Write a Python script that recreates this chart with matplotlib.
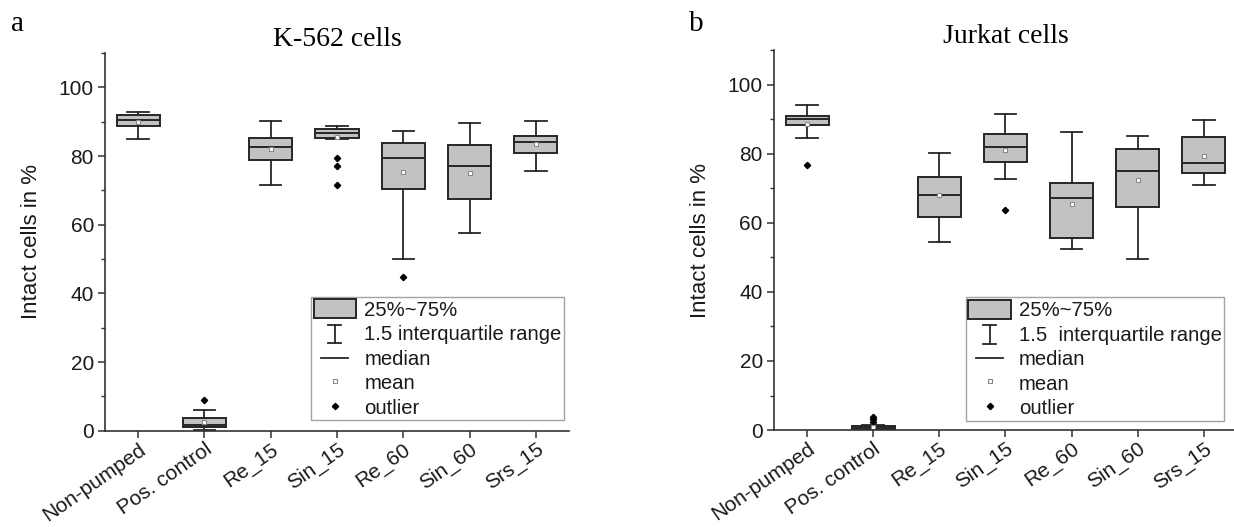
import matplotlib
matplotlib.use("Agg")
import matplotlib.pyplot as plt
from matplotlib.lines import Line2D
from matplotlib.patches import Patch
from matplotlib.legend_handler import HandlerBase
from matplotlib.ticker import MultipleLocator

# ---------------- data ----------------
categories = ["Non-pumped", "Pos. control", "Re_15", "Sin_15", "Re_60", "Sin_60", "Srs_15"]

# K-562 cells
k_q1 = [88.8, 1.2, 78.9, 85.2, 70.3, 67.5, 80.9]
k_med = [90.4, 1.6, 82.7, 86.6, 79.3, 77.0, 84.1]
k_q3 = [91.9, 3.6, 85.3, 87.9, 83.8, 83.3, 85.7]
k_whislo = [84.9, 0.3, 71.5, 85.0, 50.1, 57.5, 75.5]
k_whishi = [92.8, 6.1, 90.2, 88.7, 87.2, 89.7, 90.2]
k_mean = [89.9, 2.7, 81.9, 85.4, 75.4, 75.2, 83.4]
k_fliers = [[], [8.9], [], [79.4, 77.2, 71.5], [44.9], [], []]

# Jurkat cells
j_q1 = [88.2, 0.3, 61.7, 77.6, 55.5, 64.5, 74.5]
j_med = [90.0, 0.8, 68.2, 82.0, 67.1, 75.1, 77.4]
j_q3 = [91.0, 1.2, 73.4, 85.7, 71.5, 81.5, 84.9]
j_whislo = [84.5, 0.1, 54.5, 72.6, 52.5, 49.4, 70.9]
j_whishi = [94.0, 1.6, 80.3, 91.6, 86.4, 85.2, 89.7]
j_mean = [88.7, 0.9, 68.0, 81.2, 65.6, 72.3, 79.4]
j_fliers = [[76.8], [3.9, 3.1, 2.2], [], [63.8], [], [], []]

titles = ["K-562 cells", "Jurkat cells"]
panel_labels = ["a", "b"]
ylabel = "Intact cells in %"
legend_labels_a = ["25%~75%", "1.5 interquartile range", "median", "mean", "outlier"]
legend_labels_b = ["25%~75%", "1.5  interquartile range", "median", "mean", "outlier"]

# ---------------- style ----------------
SANS = ["Liberation Sans", "DejaVu Sans"]
SERIF = ["Liberation Serif", "DejaVu Serif"]
plt.rcParams["font.family"] = SANS
BOX_FILL = "#c2c2c2"
EDGE = "#262626"
TXT = "#1a1a1a"

fig = plt.figure(figsize=(12.34, 5.27), dpi=100)
ax_a = fig.add_axes([0.0851, 0.1825, 0.3760, 0.7170])
ax_b = fig.add_axes([0.6272, 0.1840, 0.3752, 0.7207])


class HandlerIBeam(HandlerBase):
    def create_artists(self, legend, orig_handle, xdescent, ydescent,
                       width, height, fontsize, trans):
        x0, y0 = -xdescent, -ydescent
        cx = x0 + width / 2
        cw = width * 0.15
        yb = y0 - height * 0.02
        yt = y0 + height * 0.95
        kw = dict(color=EDGE, lw=1.3, transform=trans)
        return [Line2D([cx, cx], [yb, yt], **kw),
                Line2D([cx - cw, cx + cw], [yb, yb], **kw),
                Line2D([cx - cw, cx + cw], [yt, yt], **kw)]


class HandlerShortLine(HandlerBase):
    def create_artists(self, legend, orig_handle, xdescent, ydescent,
                       width, height, fontsize, trans):
        x0, y0 = -xdescent, -ydescent
        cx = x0 + width / 2
        cy = y0 + height / 2
        hw = width * 0.32
        return [Line2D([cx - hw, cx + hw], [cy, cy], color=EDGE, lw=1.3,
                       transform=trans)]


class IBeam:
    pass


class ShortLine:
    pass


def draw_panel(ax, q1, med, q3, wlo, whi, mean, fliers, title, plabel, plabel_x,
               leg_labels, leg_anchor):
    stats = []
    for i, c in enumerate(categories):
        stats.append(dict(label=c, q1=q1[i], med=med[i], q3=q3[i],
                          whislo=wlo[i], whishi=whi[i], mean=mean[i],
                          fliers=fliers[i]))
    pos = list(range(1, len(categories) + 1))
    ax.bxp(stats, positions=pos, widths=0.65, patch_artist=True,
           showmeans=True, showfliers=True,
           boxprops=dict(facecolor=BOX_FILL, edgecolor=EDGE, linewidth=1.4),
           medianprops=dict(color=EDGE, linewidth=1.4),
           whiskerprops=dict(color=EDGE, linewidth=1.3),
           capprops=dict(color=EDGE, linewidth=1.3),
           meanprops=dict(marker="s", markersize=3.2, markerfacecolor="white",
                          markeredgecolor="#8a8a8a", markeredgewidth=0.8),
           flierprops=dict(marker="D", markersize=3.2, markerfacecolor="black",
                           markeredgecolor="black", linestyle="none"))
    ax.set_xlim(0.5, 7.5)
    ax.set_ylim(0, 110)
    ax.yaxis.set_major_locator(MultipleLocator(20))
    ax.yaxis.set_minor_locator(MultipleLocator(10))
    for s in ["top", "right"]:
        ax.spines[s].set_visible(False)
    for s in ["left", "bottom"]:
        ax.spines[s].set_color("#333333")
        ax.spines[s].set_linewidth(1.2)
    ax.tick_params(axis="both", which="major", direction="out", length=5,
                   width=1.1, color="#333333", labelcolor=TXT, pad=3)
    ax.tick_params(axis="y", which="major", labelsize=15)
    ax.tick_params(axis="x", which="major", labelsize=15, pad=1.5)
    ax.tick_params(axis="y", which="minor", direction="out", length=3,
                   width=1.0, color="#333333")
    ax.set_xticks(pos)
    ax.set_xticklabels(categories, rotation=35, ha="right", va="top",
                       rotation_mode="anchor")
    ax.set_ylabel(ylabel, fontsize=16, color=TXT, labelpad=12)
    ax.set_title(title, fontsize=20, family=SERIF, pad=5)
    fig.text(plabel_x, 1 - 24 / 527, plabel, fontsize=21, family=SERIF,
             ha="left", va="center")

    handles = [Patch(facecolor=BOX_FILL, edgecolor=EDGE, linewidth=1.4),
               IBeam(), ShortLine(),
               Line2D([], [], linestyle="none", marker="s", markersize=3.2,
                      markerfacecolor="white", markeredgecolor="#8a8a8a",
                      markeredgewidth=0.8),
               Line2D([], [], linestyle="none", marker="D", markersize=3.2,
                      markerfacecolor="black", markeredgecolor="black")]
    leg = ax.legend(handles, leg_labels, loc="lower right",
                    bbox_to_anchor=leg_anchor, borderaxespad=0,
                    fontsize=14.6, frameon=True, fancybox=False,
                    handlelength=2.1, handleheight=1.08, handletextpad=0.4,
                    labelspacing=0.2, borderpad=0.12, numpoints=1,
                    handler_map={IBeam: HandlerIBeam(),
                                 ShortLine: HandlerShortLine()})
    leg.get_frame().set_edgecolor("#8c8c8c")
    leg.get_frame().set_linewidth(1.0)
    for t in leg.get_texts():
        t.set_color(TXT)


draw_panel(ax_a, k_q1, k_med, k_q3, k_whislo, k_whishi, k_mean, k_fliers,
           titles[0], panel_labels[0], 11 / 1234, legend_labels_a, (0.989, 0.028))
draw_panel(ax_b, j_q1, j_med, j_q3, j_whislo, j_whishi, j_mean, j_fliers,
           titles[1], panel_labels[1], 689 / 1234, legend_labels_b, (0.9726, 0.0245))

fig.savefig("out.png", dpi=100)
